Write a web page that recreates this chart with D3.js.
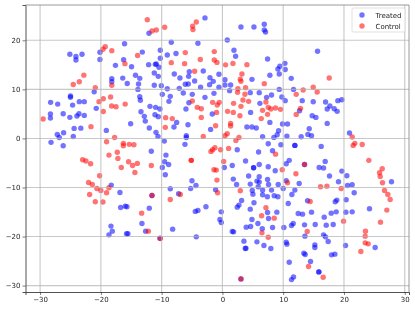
<!DOCTYPE html>
<html lang="en">
<head>
    <meta charset="UTF-8">
    <title>Treated vs Control</title>
    <script src="https://d3js.org/d3.v7.min.js"></script>
    <style>
        body { margin: 0; background: #fff; }
        svg { display: block; filter: blur(0.3px); }
        text { font-family: "DejaVu Sans", sans-serif; fill: #262626; }
        .grid line { stroke: #b0b0b0; stroke-opacity: 0.7; stroke-width: 1.1; }
    </style>
</head>
<body>
    <div id="canvas"></div>
    <script>
        // values as [x, y]
        var treated = [
            [-16.1,19.3],[-25.1,17.15],[-24.1,16.7],[-24.1,16.0],[-23.1,17.15],[-20.15,17.56],[-20.15,16.1],[-16.26,16.06],[-17.6,14.9],[-14.95,14.6],
            [-14.3,12.87],[-13.6,12.25],[-18.2,12.2],[-18.2,11.57],[-16.4,12.3],[-15.66,11.2],[-13.8,11.1],[-13.9,10.0],[-21.1,9.5],[-25.0,8.65],
            [-25.0,8.4],[-13.6,8.5],[-13.5,7.8],[-28.27,7.36],[-27.1,7.0],[-24.65,6.8],[-23.55,7.5],[-22.73,7.5],[-20.76,6.13],[-28.3,5.0],
            [-28.3,4.15],[-26.2,5.04],[-25.1,4.3],[-23.94,4.57],[-23.6,5.04],[-22.73,4.7],[-24.4,2.05],[-23.3,2.1],[-27.17,0.8],[-26.84,0.2],
            [-26.13,1.17],[-24.54,0.4],[-19.1,1.64],[-15.1,3.0],[-28.2,-0.8],[-26.2,-1.5],[-13.4,5.45],
            [-2.87,24.57],[-12.08,21.44],[3.05,22.73],[5.19,22.73],[6.89,23.27],[6.89,22.12],[7.1,21.7],[-8.41,19.6],[-4.03,19.4],[0.8,20.08],
            [-13.18,17.6],[-10.22,17.97],[-7.64,17.3],[-9.07,17.0],[1.9,17.97],[2.17,16.74],[-10.22,16.34],[7.43,16.2],[-10.88,15.18],[-11.04,15.1],
            [-12.14,15.04],[-10.44,14.5],[-11.21,13.34],[-10.55,12.66],[-7.92,13.14],[-6.99,12.32],[-5.45,13.6],[-5.56,12.66],[-3.15,13.75],[-0.57,13.07],
            [-2.05,12.39],[-4.57,11.71],[-1.51,11.64],[0.42,11.98],[4.86,12.05],[-11.21,10.83],[-10.06,10.76],[-6.11,11.04],[-5.62,11.1],[-2.11,10.96],
            [0.42,10.89],[1.35,10.89],[-0.57,10.42],[-3.59,10.42],[-9.07,10.14],[-7.1,10.21],[1.18,9.74],[-6.44,9.26],[-4.96,8.99],[-1.39,9.19],
            [-9.89,8.99],[-8.58,8.58],[-2.87,8.38],[4.58,9.33],[6.06,9.33],[7.27,8.38],[6.17,7.15],[-8.8,7.56],[-5.51,7.29],[-11.92,6.54],
            [-10.99,6.34],[-10.28,6.0],[-6.0,6.0],[-11.1,4.84],[-10.55,4.44],[-12.85,4.5],[-12.69,3.54],[-7.53,3.27],[-7.97,2.32],[-5.67,2.8],
            [-12.03,2.12],[-1.67,4.97],[4.64,5.31],[-1.94,1.84],[4.03,2.32],[4.86,2.32],[5.57,2.12],[-10.93,1.24],[-10.6,0.42],[-5.94,0.55],
            [-5.94,0.2],[6.61,0.35],[-9.56,-0.54],[-6.16,-1.2],[7.54,-1.08],[-11.7,-2.6],[2.44,-2.3],[-9.29,-3.4],
            [15.65,17.76],[10.28,15.31],[9.45,14.7],[9.13,14.16],[10.33,14.04],[9.35,13.14],[7.81,12.87],[11.32,12.25],[9.35,10.0],[11.7,10.0],
            [8.08,8.85],[9.78,8.44],[10.33,7.7],[13.13,7.7],[14.94,7.49],[16.97,7.44],[18.99,7.7],[19.65,7.9],[17.68,6.6],[17.24,6.0],
            [18.39,6.06],[18.88,5.52],[12.69,5.65],[14.77,4.64],[15.38,4.29],[7.81,3.27],[9.89,2.93],[10.71,2.93],[17.24,3.07],[14.28,1.98],
            [9.24,1.57],[9.01,0.76],[8.47,0.21],[10.61,0.48],[12.96,0.34],[14.06,0.82],[14.66,0.55],[20.91,1.1],[9.62,-1.28],[11.92,-1.42],
            [11.92,-1.42],[16.25,-1.62],[8.25,-2.5],
            [-18.29,-9.51],[-16.86,-11.01],[-16.75,-14.07],[-15.99,-13.8],[-15.71,-13.93],[-18.34,-17.87],[-18.12,-18.9],[-18.67,-19.65],[-15.77,-19.44],[-15.55,-19.44],
            [-9.51,-4.75],[-8.85,-5.3],[-9.89,-5.91],[-9.4,-7.4],[-5.01,-8.63],[-4.35,-9.58],[-5.23,-10.19],[-8.58,-10.26],[-7.21,-11.28],[-1.12,-10.47],
            [-12.03,-14.21],[-13.24,-17.34],[-12.63,-18.9],[-8.19,-18.49],[-2.71,-13.93],[-4.46,-14.87],[-4.03,-14.67],[-0.19,-14.96],[-0.41,-16.52],[-0.19,-17.13],
            [-4.3,-20.06],[-10.28,-20.33],[1.62,-18.97],[1.84,-19.04],[3.54,-20.94],[3.87,-22.37],[3.76,-22.44],[5.68,-21.08],[6.83,-21.83],
            [1.62,-5.5],[0.31,-5.91],[3.81,-4.61],[5.13,-5.97],[5.13,-5.97],[6.06,-5.3],[5.95,-2.77],[7.54,-5.77],[4.31,-7.67],[6.06,-7.81],
            [1.79,-8.29],[2.33,-9.37],[4.58,-9.31],[5.68,-8.7],[6.06,-8.9],[7.43,-8.36],[7.59,-9.37],[5.89,-9.85],[4.91,-10.6],[5.02,-11.35],
            [6.61,-10.53],[6.61,-11.49],[7.39,-11.89],[5.19,-13.12],[3.16,-12.64],[2.72,-13.59],[2.44,-14.0],[4.58,-14.41],[7.43,-15.09],
            [7.59,-16.32],[4.86,-16.52],[5.84,-17.34],[3.92,-18.08],[4.64,-17.95],[6.56,-18.42],[-11.59,-11.62],[3.05,-28.63],[13.51,-5.3],
            [16.91,-4.68],[15.92,-5.91],[16.64,-6.04],[10.99,-4.47],[10.5,-5.16],[8.69,-6.59],[17.62,-7.67],[19.65,-6.66],[20.47,-7.61],[19.1,-8.83],
            [20.58,-9.58],[21.35,-9.44],[21.68,-11.07],[27.82,-8.83],[10.5,-8.63],[12.63,-9.17],[9.18,-9.37],[10.0,-10.19],[11.92,-10.53],[11.43,-11.42],
            [8.08,-10.53],[8.52,-11.69],[9.13,-11.89],[10.83,-13.25],[14.01,-12.71],[18.56,-12.91],[18.83,-12.57],[20.36,-12.51],[12.47,-15.3],[13.18,-15.43],
            [14.66,-15.02],[17.9,-15.23],[18.72,-14.96],[20.31,-15.02],[21.35,-14.96],[24.2,-14.34],[8.96,-15.02],[16.75,-16.04],[15.27,-17.54],[13.51,-17.61],
            [17.08,-17.67],[18.23,-17.54],[11.37,-17.74],[11.65,-17.34],[8.25,-18.15],[10.11,-18.15],[13.57,-19.92],[16.64,-19.65],[16.97,-20.06],[17.4,-21.01],
            [20.26,-21.83],[10.5,-21.15],[10.61,-21.55],[15.21,-21.69],[15.21,-22.23],[25.13,-22.23],[7.97,-22.44],[13.4,-23.39],[13.62,-23.66],[17.95,-23.73],
            [18.5,-23.59],[14.5,-25.09],[10.99,-25.23],[15.87,-27.2],[15.87,-27.2],[11.7,-28.22],[11.37,-28.77]
        ];
        var control = [
            [-19.28,18.7],[-19.66,18.17],[-18.2,17.9],[-13.96,16.9],[-16.04,15.25],[-22.8,12.9],[-23.55,11.57],[-24.54,11.0],[-18.2,10.83],[-20.92,10.35],
            [-20.3,7.5],[-19.6,8.1],[-18.4,8.44],[-18.23,6.6],[-17.5,6.47],[-16.0,7.0],[-19.6,5.5],[-29.5,3.95],[-21.63,2.4],[-17.74,0.2],
            [-19.06,-0.67],[-16.3,-1.0],[-16.3,-1.5],[-15.33,-1.2],[-14.56,-1.3],[-18.67,-3.4],[-17.3,-2.8],
            [-12.36,24.2],[-11.59,21.9],[-10.88,22.1],[-9.5,22.66],[-4.9,22.9],[-4.3,23.75],[-4.85,22.2],[-8.41,15.45],[-6.11,17.5],[-6.22,15.25],
            [-3.64,16.1],[-1.34,17.7],[-1.34,16.0],[-0.9,15.5],[0.52,15.0],[1.73,15.3],[4.03,15.04],[-4.57,13.7],[3.21,13.14],[2.94,12.1],
            [3.05,11.64],[6.89,11.17],[2.55,10.14],[3.81,10.35],[2.49,9.4],[3.7,9.0],[3.38,7.83],[4.31,7.56],[1.84,7.15],[3.05,6.54],
            [7.16,7.44],[7.54,6.34],[6.61,5.73],[-4.96,7.63],[-1.61,7.36],[-0.52,7.36],[-0.85,6.81],[-4.14,6.34],[-3.48,6.06],
            [-0.96,5.31],[0.85,5.52],[1.79,5.31],[2.88,4.64],[-3.48,4.29],[-9.34,4.24],[-8.25,4.04],[6.39,4.04],[7.43,4.91],[-9.4,2.26],
            [-1.12,2.59],[1.35,3.07],[1.35,2.54],[-3.15,0.42],[0.79,0.96],[0.42,0.55],[2.72,0.21],[2.22,-0.4],[-1.23,-1.9],[-1.61,-2.3],
            [-1.89,-2.64],[-0.3,-2.3],[1.02,-2.03],
            [17.57,12.32],[14.94,10.42],[13.29,9.87],[15.59,9.46],[12.14,8.99],[12.85,6.13],[12.14,4.9],[9.56,5.93],[8.74,6.2],[7.97,6.0],
            [21.35,0.28],[21.79,-1.0],[21.51,-1.42],[23.0,-1.22],[8.74,-3.2],
            [-23.0,-4.34],[-22.46,-4.61],[-21.69,-5.16],[-17.2,-4.07],[-15.44,-4.75],[-14.78,-5.5],[-14.0,-5.09],[-16.64,-5.91],[-14.4,-6.93],[-20.21,-7.61],
            [-22.02,-8.97],[-21.41,-9.37],[-20.65,-10.19],[-20.0,-10.6],[-18.67,-10.06],[-19.06,-11.07],[-21.85,-11.42],[-20.92,-12.91],[-19.66,-12.97],
            [-11.7,-5.5],[-5.12,-4.47],[-5.12,-4.47],[0.2,-4.68],[-1.39,-6.38],[-1.01,-6.45],[-0.9,-8.49],[-0.79,-11.08],[2.94,-10.67],[-8.58,-12.44],
            [-6.93,-11.42],[-11.59,-11.62],[-13.29,-15.23],[-12.19,-18.9],[-10.22,-20.4],[6.45,-15.77],[7.16,-14.14],[6.5,-19.24],[7.54,-20.13],[3.05,-28.63],
            [24.09,-4.47],[26.29,-6.18],[25.85,-7.0],[25.96,-7.74],[26.34,-9.04],[26.67,-10.6],[27.22,-11.42],[27.6,-12.44],[27.05,-14.61],[26.01,-17.06],
            [23.54,-18.9],[23.49,-19.92],[23.49,-21.28],[23.98,-21.49],[22.78,-23.05],[9.84,-6.38],[12.09,-7.2],[10.71,-9.04],[16.14,-9.85],[17.19,-9.72],
            [19.54,-10.19],[14.44,-12.85],[8.52,-16.25],[19.93,-16.86],[13.95,-18.97],[14.17,-26.11],[16.58,-28.29],[13.51,-5.3]
        ];
        var xTicks = [-30, -20, -10, 0, 10, 20, 30];
        var yTicks = [-30, -20, -10, 0, 10, 20];
        var legendLabels = ["Treated", "Control"];
        var colors = ["#0000ff", "#ff0000"];

        var margin = {top: 5, right: 6, bottom: 18, left: 25.5},
            width = 415 - margin.left - margin.right,
            height = 310 - margin.top - margin.bottom;

        var svg = d3.select("#canvas")
            .append("svg")
            .attr("width", 415)
            .attr("height", 310)
            .append("g")
            .attr("transform", "translate(" + margin.left + "," + margin.top + ")");

        var x = d3.scaleLinear().domain([-32.4, 30.7]).range([0, width]);
        var y = d3.scaleLinear().domain([-31.3, 27.2]).range([height, 0]);

        // points go first, the grid sits over them
        [treated, control].forEach(function(series, i) {
            svg.append("g")
                .selectAll("circle")
                .data(series)
                .enter()
                .append("circle")
                .attr("cx", function(d) { return x(d[0]); })
                .attr("cy", function(d) { return y(d[1]); })
                .attr("r", 2.7)
                .attr("fill", colors[i])
                .attr("fill-opacity", 0.55);
        });

        var grid = svg.append("g").attr("class", "grid");
        grid.selectAll("line.v").data(xTicks).enter().append("line")
            .attr("class", "v")
            .attr("x1", function(d) { return x(d); })
            .attr("x2", function(d) { return x(d); })
            .attr("y1", 0)
            .attr("y2", height);
        grid.selectAll("line.h").data(yTicks).enter().append("line")
            .attr("class", "h")
            .attr("y1", function(d) { return y(d); })
            .attr("y2", function(d) { return y(d); })
            .attr("x1", 0)
            .attr("x2", width);

        svg.append("g")
            .attr("transform", "translate(0," + height + ")")
            .call(d3.axisBottom(x).tickValues(xTicks).tickSize(3).tickPadding(2));
        svg.append("g")
            .call(d3.axisLeft(y).tickValues(yTicks).tickSize(3).tickPadding(2));
        svg.selectAll(".tick text").style("font-size", "7px");
        svg.selectAll(".tick line").attr("stroke", "#262626").attr("stroke-width", 0.6);
        svg.selectAll(".domain").attr("stroke", "#262626").attr("stroke-width", 0.8);

        // top and right edges
        svg.append("line").attr("x1", 0).attr("x2", width).attr("y1", 0).attr("y2", 0)
            .attr("stroke", "#808080").attr("stroke-width", 0.8);
        svg.append("line").attr("x1", width).attr("x2", width).attr("y1", 0).attr("y2", height)
            .attr("stroke", "#808080").attr("stroke-width", 0.8);

        // legend
        var legend = svg.append("g").attr("transform", "translate(" + (width - 57) + ",3)");
        legend.append("rect")
            .attr("width", 53)
            .attr("height", 24)
            .attr("rx", 1.5)
            .attr("fill", "#fff")
            .attr("fill-opacity", 0.8)
            .attr("stroke", "#ccc")
            .attr("stroke-width", 0.6);
        legendLabels.forEach(function(label, i) {
            legend.append("circle")
                .attr("cx", 10)
                .attr("cy", 7 + i * 11)
                .attr("r", 2.7)
                .attr("fill", colors[i])
                .attr("fill-opacity", 0.55);
            legend.append("text")
                .attr("x", 23.5)
                .attr("y", 9.5 + i * 11)
                .style("font-size", "7px")
                .text(label);
        });
    </script>
</body>
</html>
